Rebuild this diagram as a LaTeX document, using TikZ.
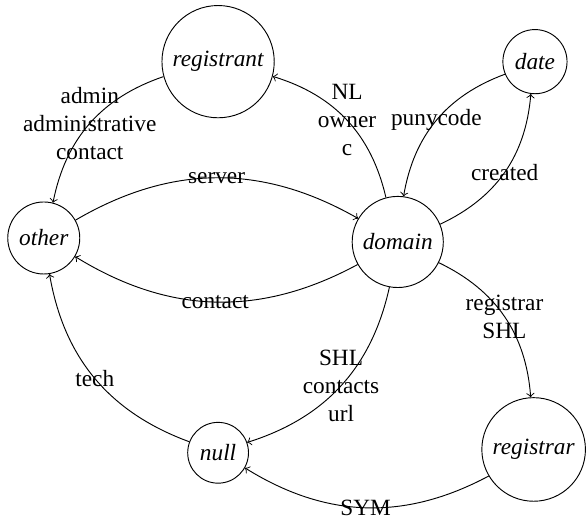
\documentclass[tikz,border=0pt]{standalone}
\usepackage{fontspec}
\setmainfont{Liberation Serif}
\usetikzlibrary{automata}

\begin{document}
\begin{tikzpicture}[->,node distance=3cm,every state/.style={font=\itshape}]
\useasboundingbox (0,0) rectangle (8.84,7.84);

\node[state] (registrant) at (3.29,6.91) {registrant};
\node[state] (date) at (8.07,6.91) {date};
\node[state] (other) at (0.66,4.25) {other};
\node[state] (domain) at (6.00,4.19) {domain};
\node[state] (null) at (3.29,1.01) {null};
\node[state] (registrar) at (8.05,1.06) {registrar};


         \path[every node/.style={align=center}]
         (registrant) edge[bend right] node {admin\\administrative\\contact} (other)
         (domain)     edge[bend right] node {NL\\owner\\c} (registrant)
         (domain)     edge[bend left]  node {registrar\\SHL} (registrar)
         (domain)     edge[bend left]  node {SHL\\contacts\\url} (null)
         (null)       edge[bend left]  node {tech} (other)
         (registrar)  edge[bend left]  node {SYM} (null);

                      \draw[->] (date) to [bend right] node {punycode} (domain);
                      \draw[->] (domain) to [bend right] node {created} (date);
                      \draw[->] (other) to [bend left] node {server} (domain);
                      \draw[->] (domain) to [bend left] node {contact} (other);
\end{tikzpicture}
\end{document}
